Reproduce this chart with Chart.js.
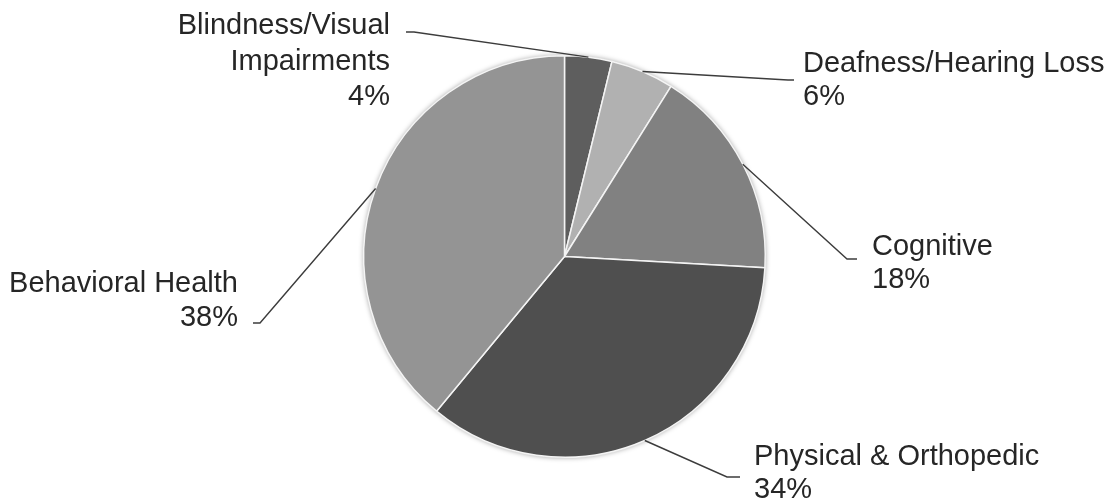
<!DOCTYPE html>
<html>
<head>
<meta charset="utf-8">
<script src="https://cdn.jsdelivr.net/npm/chart.js@4"></script>
<style>
  html, body { margin: 0; padding: 0; background: #fff; }
  #wrap { width: 1112px; height: 502px; }
</style>
</head>
<body>
<div id="wrap"><canvas id="pieChart"></canvas></div>
<script>
const categories = ['Blindness/Visual Impairments', 'Deafness/Hearing Loss', 'Cognitive', 'Physical & Orthopedic', 'Behavioral Health'];
const shares = [3.8, 5.1, 17.0, 35.1, 39.0];
const pctLabels = ['4%', '6%', '18%', '34%', '38%'];
const sliceColors = ['#5e5e5e', '#b1b1b1', '#818181', '#4f4f4f', '#949494'];

// label text lines plus where the leader elbows and text sit
const labelLayout = [
    { lines: ['Blindness/Visual', 'Impairments', '4%'], elbow: [414, 32], end: [406, 32], tx: 390, ty: 34, align: 'right', lh: 35.5 },
    { lines: ['Deafness/Hearing Loss', '6%'], elbow: [788, 80], end: [794, 80], tx: 803, ty: 72, align: 'left', lh: 33 },
    { lines: ['Cognitive', '18%'], elbow: [847, 259], end: [857, 259], tx: 872, ty: 255, align: 'left', lh: 33 },
    { lines: ['Physical & Orthopedic', '34%'], elbow: [727, 477], end: [740, 477], tx: 754, ty: 465, align: 'left', lh: 33 },
    { lines: ['Behavioral Health', '38%'], elbow: [260, 323], end: [253, 323], tx: 238, ty: 292, align: 'right', lh: 34 }
];

const pieShadow = {
    id: 'pieShadow',
    beforeDatasetsDraw(chart) {
        const arc = chart.getDatasetMeta(0).data[0];
        if (!arc) return;
        const ctx = chart.ctx;
        ctx.save();
        ctx.shadowColor = 'rgba(0,0,0,0.35)';
        ctx.shadowBlur = 5;
        ctx.fillStyle = '#d0d0d0';
        ctx.beginPath();
        ctx.arc(arc.x, arc.y, arc.outerRadius + 0.5, 0, Math.PI * 2);
        ctx.fill();
        ctx.restore();
    }
};

const leaderLabels = {
    id: 'leaderLabels',
    afterDatasetsDraw(chart) {
        const ctx = chart.ctx;
        const arcs = chart.getDatasetMeta(0).data;
        ctx.save();
        arcs.forEach((arc, i) => {
            const lay = labelLayout[i];
            const mid = (arc.startAngle + arc.endAngle) / 2;
            const sx = arc.x + Math.cos(mid) * arc.outerRadius;
            const sy = arc.y + Math.sin(mid) * arc.outerRadius;
            ctx.strokeStyle = '#3c3c3c';
            ctx.lineWidth = 1.4;
            ctx.beginPath();
            ctx.moveTo(sx, sy);
            ctx.lineTo(lay.elbow[0], lay.elbow[1]);
            ctx.lineTo(lay.end[0], lay.end[1]);
            ctx.stroke();

            ctx.fillStyle = '#262626';
            ctx.font = '29px "Liberation Sans", Arial, sans-serif';
            ctx.textAlign = lay.align;
            ctx.textBaseline = 'alphabetic';
            lay.lines.forEach((t, k) => ctx.fillText(t, lay.tx, lay.ty + k * lay.lh));
        });
        ctx.restore();
    }
};

new Chart(document.getElementById('pieChart'), {
    type: 'pie',
    data: {
        labels: categories,
        datasets: [{
            data: shares,
            backgroundColor: sliceColors,
            borderColor: '#f4f4f4',
            borderWidth: 1.5
        }]
    },
    options: {
        responsive: true,
        maintainAspectRatio: false,
        animation: false,
        layout: {
            padding: { top: 55, bottom: 44, left: 363, right: 346 }
        },
        plugins: {
            legend: { display: false },
            tooltip: { enabled: false }
        }
    },
    plugins: [pieShadow, leaderLabels]
});
</script>
</body>
</html>
